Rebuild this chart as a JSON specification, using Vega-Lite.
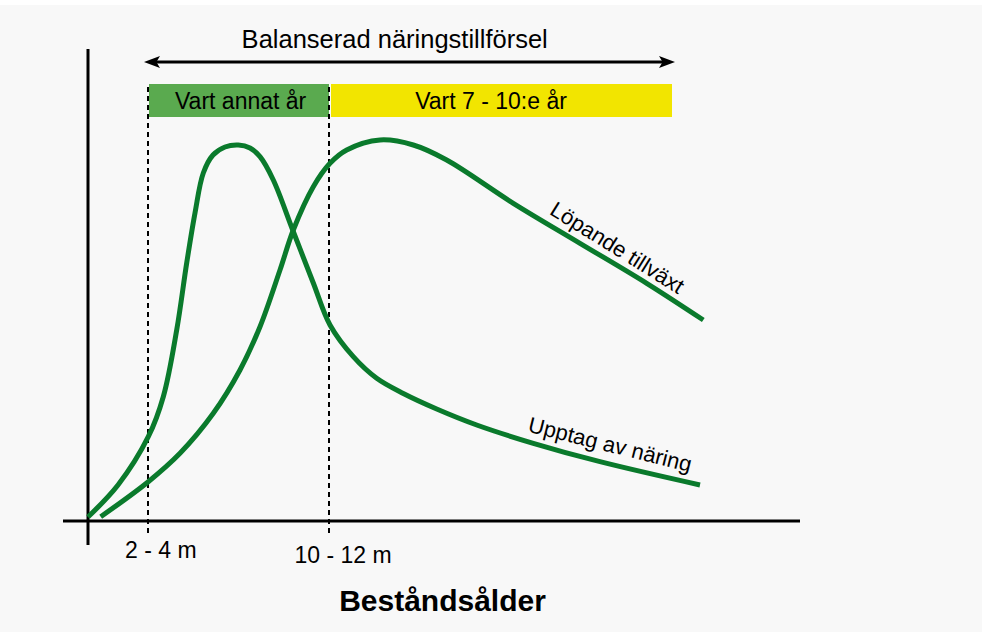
{
  "$schema": "https://vega.github.io/schema/vega-lite/v6.json",
  "width": 982,
  "height": 632,
  "autosize": {"type": "fit", "contains": "padding"},
  "padding": {"top": 5, "left": 0, "right": 0, "bottom": 0},
  "background": "#ffffff",
  "config": {"view": {"fill": "#f8f8f8", "stroke": null}, "font": "Liberation Sans"},
  "datasets": {
    "curves": [
      {"serie": "Upptag av näring", "age": 0.0, "v": 0.4},
      {"serie": "Upptag av näring", "age": 3.0, "v": 3.6},
      {"serie": "Upptag av näring", "age": 6.03, "v": 8.43},
      {"serie": "Upptag av näring", "age": 7.53, "v": 12.43},
      {"serie": "Upptag av näring", "age": 8.87, "v": 19.1},
      {"serie": "Upptag av näring", "age": 9.87, "v": 25.8},
      {"serie": "Upptag av näring", "age": 10.7, "v": 30.8},
      {"serie": "Upptag av näring", "age": 11.53, "v": 34.8},
      {"serie": "Upptag av näring", "age": 12.5, "v": 36.6},
      {"serie": "Upptag av näring", "age": 13.7, "v": 37.4},
      {"serie": "Upptag av näring", "age": 15.03, "v": 37.6},
      {"serie": "Upptag av näring", "age": 16.2, "v": 37.3},
      {"serie": "Upptag av näring", "age": 17.2, "v": 36.43},
      {"serie": "Upptag av näring", "age": 18.53, "v": 34.1},
      {"serie": "Upptag av näring", "age": 20.47, "v": 29.1},
      {"serie": "Upptag av näring", "age": 22.53, "v": 23.8},
      {"serie": "Upptag av näring", "age": 24.2, "v": 19.6},
      {"serie": "Upptag av näring", "age": 26.53, "v": 16.43},
      {"serie": "Upptag av näring", "age": 28.87, "v": 14.27},
      {"serie": "Upptag av näring", "age": 31.53, "v": 12.75},
      {"serie": "Upptag av näring", "age": 34.87, "v": 11.2},
      {"serie": "Upptag av näring", "age": 38.87, "v": 9.6},
      {"serie": "Upptag av näring", "age": 44.53, "v": 7.77},
      {"serie": "Upptag av näring", "age": 51.2, "v": 5.93},
      {"serie": "Upptag av näring", "age": 61.2, "v": 3.6},
      {"serie": "Löpande tillväxt", "age": 1.27, "v": 0.43},
      {"serie": "Löpande tillväxt", "age": 6.03, "v": 3.93},
      {"serie": "Löpande tillväxt", "age": 9.2, "v": 6.77},
      {"serie": "Löpande tillväxt", "age": 12.53, "v": 10.77},
      {"serie": "Löpande tillväxt", "age": 15.2, "v": 15.1},
      {"serie": "Löpande tillväxt", "age": 17.2, "v": 19.43},
      {"serie": "Löpande tillväxt", "age": 19.2, "v": 25.1},
      {"serie": "Löpande tillväxt", "age": 20.53, "v": 29.1},
      {"serie": "Löpande tillväxt", "age": 22.53, "v": 33.43},
      {"serie": "Löpande tillväxt", "age": 24.2, "v": 35.77},
      {"serie": "Löpande tillväxt", "age": 25.87, "v": 37.1},
      {"serie": "Löpande tillväxt", "age": 29.2, "v": 38.1},
      {"serie": "Löpande tillväxt", "age": 32.53, "v": 37.6},
      {"serie": "Löpande tillväxt", "age": 35.87, "v": 36.1},
      {"serie": "Löpande tillväxt", "age": 42.53, "v": 31.77},
      {"serie": "Löpande tillväxt", "age": 49.2, "v": 27.77},
      {"serie": "Löpande tillväxt", "age": 55.87, "v": 23.77},
      {"serie": "Löpande tillväxt", "age": 61.53, "v": 20.1}
    ],
    "bands": [
      {"band": "Vart annat år", "x0": 6.1, "x1": 24.1, "y0": 40.4, "y1": 43.7, "xm": 15.26},
      {"band": "Vart 7 - 10:e år", "x0": 24.3, "x1": 58.4, "y0": 40.4, "y1": 43.7, "xm": 40.3}
    ],
    "axes": [
      {"axis": "x", "x0": -2.5, "x1": 71.2, "y0": 0, "y1": 0},
      {"axis": "y", "x0": 0, "x1": 0, "y0": -2.4, "y1": 47.2}
    ],
    "marks": [
      {"label": "2 - 4 m", "x": 6.0, "xt": 7.28, "yt": -2.97},
      {"label": "10 - 12 m", "x": 24.1, "xt": 25.5, "yt": -3.5}
    ],
    "arrow": [
      {"x0": 6.6, "x1": 57.7, "y": 45.9}
    ],
    "heads": [
      {"side": "left", "x": 6.4, "y": 45.9},
      {"side": "right", "x": 57.9, "y": 45.9}
    ],
    "labels": [
      {"label": "Löpande tillväxt", "x": 52.9, "y": 27.3, "angle": 32},
      {"label": "Upptag av näring", "x": 52.2, "y": 7.6, "angle": 14}
    ],
    "titles": [
      {"label": "Balanserad näringstillförsel", "x": 30.67, "y": 48.1}
    ],
    "xtitle": [
      {"label": "Beståndsålder", "x": 35.45, "y": -8.1}
    ]
  },
  "layer": [
    {
      "data": {"name": "bands"},
      "mark": {"type": "rect"},
      "encoding": {
        "x": {"field": "x0", "type": "quantitative", "scale": {"domain": [-8.8, 89.4], "nice": false, "zero": false}, "axis": null},
        "x2": {"field": "x1"},
        "y": {"field": "y0", "type": "quantitative", "scale": {"domain": [-11.1, 51.6], "nice": false, "zero": false}, "axis": null},
        "y2": {"field": "y1"},
        "color": {"field": "band", "type": "nominal", "scale": {"domain": ["Vart annat år", "Vart 7 - 10:e år"], "range": ["#5aaa4f", "#f2e500"]}, "legend": null}
      }
    },
    {
      "data": {"name": "bands"},
      "mark": {"type": "text", "fontSize": 23, "baseline": "middle", "align": "center", "color": "#000000", "dy": 1},
      "encoding": {
        "x": {"field": "xm", "type": "quantitative"},
        "y": {"datum": 42.05, "type": "quantitative"},
        "text": {"field": "band"}
      }
    },
    {
      "data": {"name": "marks"},
      "mark": {"type": "rule", "strokeDash": [5, 4], "strokeWidth": 2, "color": "#000000"},
      "encoding": {
        "x": {"field": "x", "type": "quantitative"},
        "y": {"datum": -1.2, "type": "quantitative"},
        "y2": {"datum": 43.7}
      }
    },
    {
      "data": {"name": "marks"},
      "mark": {"type": "text", "fontSize": 23, "baseline": "middle", "align": "center", "color": "#000000"},
      "encoding": {
        "x": {"field": "xt", "type": "quantitative"},
        "y": {"field": "yt", "type": "quantitative"},
        "text": {"field": "label"}
      }
    },
    {
      "data": {"name": "axes"},
      "mark": {"type": "rule", "strokeWidth": 3, "color": "#000000"},
      "encoding": {
        "x": {"field": "x0", "type": "quantitative"},
        "x2": {"field": "x1"},
        "y": {"field": "y0", "type": "quantitative"},
        "y2": {"field": "y1"}
      }
    },
    {
      "data": {"name": "curves"},
      "mark": {"type": "line", "strokeWidth": 5, "color": "#0a7a2c", "interpolate": "catmull-rom", "strokeCap": "butt"},
      "encoding": {
        "x": {"field": "age", "type": "quantitative"},
        "y": {"field": "v", "type": "quantitative"},
        "detail": {"field": "serie", "type": "nominal"}
      }
    },
    {
      "data": {"name": "arrow"},
      "mark": {"type": "rule", "strokeWidth": 3, "color": "#000000"},
      "encoding": {
        "x": {"field": "x0", "type": "quantitative"},
        "x2": {"field": "x1"},
        "y": {"field": "y", "type": "quantitative"}
      }
    },
    {
      "data": {"name": "heads"},
      "mark": {"type": "point", "filled": true, "opacity": 1, "color": "#000000", "size": 256, "strokeWidth": 0},
      "encoding": {
        "x": {"field": "x", "type": "quantitative"},
        "y": {"field": "y", "type": "quantitative"},
        "shape": {"field": "side", "type": "nominal", "scale": {"domain": ["left", "right"], "range": ["M -1 0 L 1 -0.75 L 0.55 0 L 1 0.75 Z", "M 1 0 L -1 -0.75 L -0.55 0 L -1 0.75 Z"]}, "legend": null}
      }
    },
    {
      "data": {"name": "labels"},
      "mark": {"type": "text", "fontSize": 22, "baseline": "middle", "align": "center", "color": "#000000"},
      "encoding": {
        "x": {"field": "x", "type": "quantitative"},
        "y": {"field": "y", "type": "quantitative"},
        "angle": {"field": "angle", "type": "quantitative", "scale": null},
        "text": {"field": "label"}
      }
    },
    {
      "data": {"name": "titles"},
      "mark": {"type": "text", "fontSize": 25.5, "baseline": "middle", "align": "center", "color": "#000000"},
      "encoding": {
        "x": {"field": "x", "type": "quantitative"},
        "y": {"field": "y", "type": "quantitative"},
        "text": {"field": "label"}
      }
    },
    {
      "data": {"name": "xtitle"},
      "mark": {"type": "text", "fontSize": 30, "fontWeight": "bold", "baseline": "middle", "align": "center", "color": "#000000"},
      "encoding": {
        "x": {"field": "x", "type": "quantitative"},
        "y": {"field": "y", "type": "quantitative"},
        "text": {"field": "label"}
      }
    }
  ]
}
